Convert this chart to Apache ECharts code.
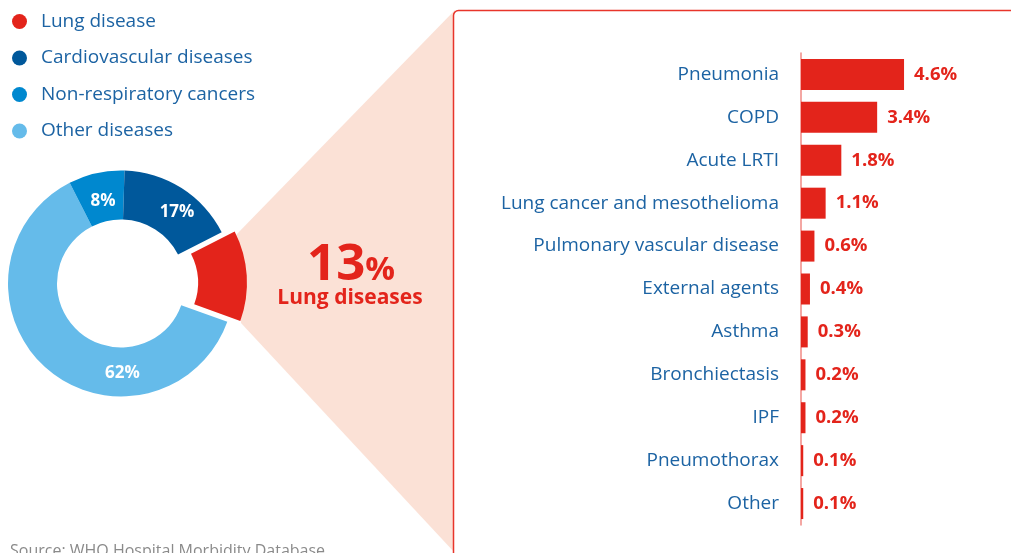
<!DOCTYPE html>
<html><head><meta charset="utf-8">
<script src="https://cdn.jsdelivr.net/npm/echarts@6/dist/echarts.min.js"></script>
<style>html,body{margin:0;padding:0;background:#fff}#c{width:1011px;height:553px}</style>
</head><body><div id="c"></div>
<script>
// ---- data ----
const groupNames = ['Lung disease', 'Cardiovascular diseases', 'Non-respiratory cancers', 'Other diseases'];
const groupShares = [13, 17, 8, 62];
const pieOrder = [0, 3, 2, 1]; // drawing order clockwise starting from lung slice
const lungCategories = ['Pneumonia', 'COPD', 'Acute LRTI', 'Lung cancer and mesothelioma', 'Pulmonary vascular disease', 'External agents', 'Asthma', 'Bronchiectasis', 'IPF', 'Pneumothorax', 'Other'];
const lungValues = [4.6, 3.4, 1.8, 1.1, 0.6, 0.4, 0.3, 0.2, 0.2, 0.1, 0.1];
const calloutLabel = 'Lung diseases';
const sourceText = 'Source: WHO Hospital Morbidity Database';

// ---- styles ----
const groupColors = ['#e3241b', '#00589b', '#0088cf', '#65bbea'];
const RED = '#e3241b';
const BLUE_TEXT = '#1c63a3';
const FONT = '"Open Sans", "DejaVu Sans", sans-serif';
const labelShift = { 'Other diseases': [62, 21], 'Cardiovascular diseases': [7, 6], 'Non-respiratory cancers': [2, 7] };

const pieData = pieOrder.map(i => ({
  name: groupNames[i],
  value: groupShares[i],
  selected: i === 0,
  itemStyle: { color: groupColors[i] },
  label: { show: i !== 0 },
  select: { itemStyle: { color: groupColors[i], borderWidth: 0 } }
}));

const chart = echarts.init(document.getElementById('c'), null, { renderer: 'canvas' });
chart.setOption({
  animation: false,
  backgroundColor: '#fff',
  textStyle: { fontFamily: FONT },
  legend: {
    data: groupNames.map(n => ({ name: n, icon: 'circle' })),
    orient: 'vertical',
    left: 12, top: 12, padding: 0,
    itemWidth: 15, itemHeight: 15, itemGap: 17.5,
    selectedMode: false,
    textStyle: { color: BLUE_TEXT, fontSize: 19, fontFamily: FONT, padding: [0, 0, 0, 9] }
  },
  graphic: [
    { type: 'polygon', z: 0, silent: true,
      shape: { points: [[236, 235], [455, 10], [455, 553], [241, 323]] },
      style: { fill: '#fbe1d6' } },
    { type: 'rect', z: 0, silent: true,
      shape: { x: 453.5, y: 10.5, width: 800, height: 700, r: 5 },
      style: { fill: '#fff', stroke: '#e8352b', lineWidth: 1.5 } },
    { type: 'text', z: 5, silent: true, left: 307, top: 240,
      style: { text: '{a|' + groupShares[0] + '}{b|%}', rich: {
        a: { fontSize: 51, fontWeight: 'bold', fill: RED, fontFamily: FONT },
        b: { fontSize: 33, fontWeight: 'bold', fill: RED, fontFamily: FONT, padding: [10, 0, 0, 0] } } } },
    { type: 'text', z: 5, silent: true, x: 350, y: 298,
      style: { text: calloutLabel, fontSize: 21, fontWeight: 'bold', fill: RED, fontFamily: FONT, align: 'center', verticalAlign: 'middle' } },
    { type: 'text', z: 5, silent: true, x: 10, y: 543,
      style: { text: sourceText, fontSize: 16, fill: '#8a8a8a', fontFamily: FONT, verticalAlign: 'top' } }
  ],
  grid: { left: 801, top: 53, width: 134.4, height: 472, containLabel: false },
  xAxis: { type: 'value', min: 0, max: 6, show: false },
  yAxis: {
    type: 'category', inverse: true, data: lungCategories, z: 6,
    axisLine: { show: true, lineStyle: { color: '#f08a84', width: 1.5 } },
    axisTick: { show: false },
    axisLabel: { color: BLUE_TEXT, fontSize: 19, fontFamily: FONT, margin: 22 }
  },
  series: [
    {
      type: 'pie', center: [121, 283.5], radius: [64, 113], startAngle: 27, clockwise: true,
      selectedMode: 'single', selectedOffset: 13,
      avoidLabelOverlap: false, silent: true,
      emphasis: { disabled: true },
      label: { position: 'inside', formatter: '{c}%', color: '#fff', fontSize: 17, fontWeight: 'bold', fontFamily: FONT },
      labelLine: { show: false },
      labelLayout: p => { const s = labelShift[pieData[p.dataIndex].name] || [0, 0]; return { dx: s[0], dy: s[1] }; },
      data: pieData
    },
    {
      type: 'bar', data: lungValues, barWidth: 31, silent: true, z: 7,
      itemStyle: { color: RED },
      label: { show: true, position: 'right', distance: 10, formatter: '{c}%', color: RED, fontSize: 18.5, fontWeight: 'bold', fontFamily: FONT }
    }
  ]
});
</script></body></html>
